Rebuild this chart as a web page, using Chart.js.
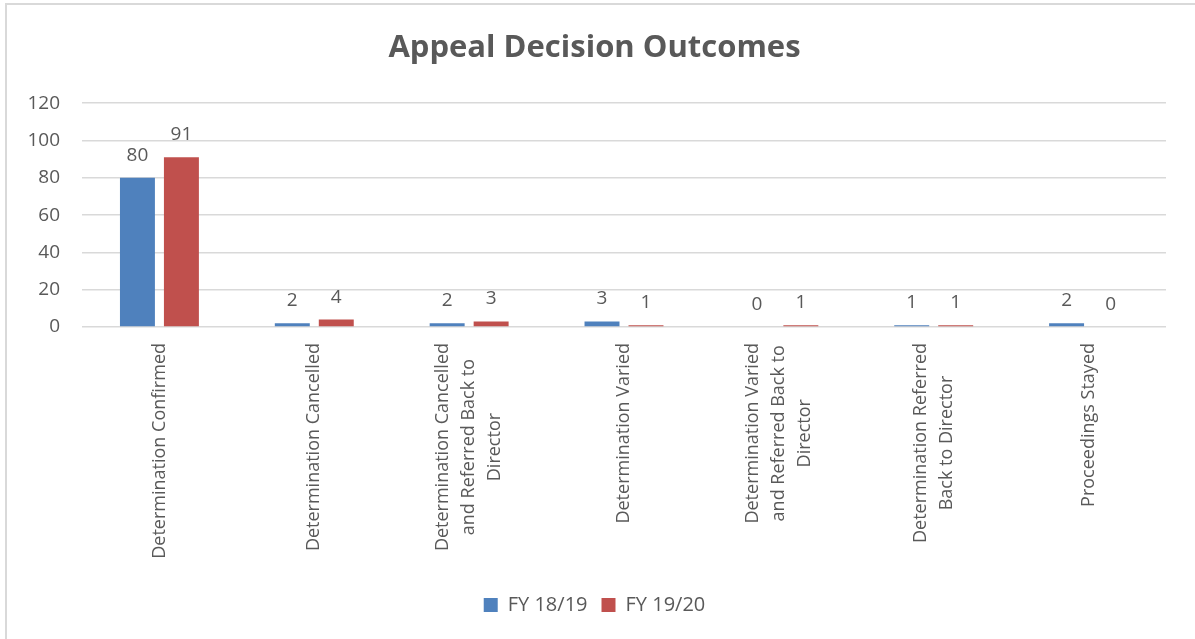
<!DOCTYPE html>
<html>
<head>
<meta charset="utf-8">
<script src="https://cdn.jsdelivr.net/npm/chart.js@4.4.1/dist/chart.umd.min.js"></script>
<style>
  html, body { margin: 0; padding: 0; background: #ffffff; }
  #wrap { position: absolute; left: 0; top: 0; width: 1195px; height: 639px; }
  #frame { position: absolute; left: 5px; top: 3px; width: 1190px; height: 636px;
           border-left: 2px solid #d9d9d9; border-top: 2px solid #d9d9d9; box-sizing: border-box; pointer-events: none; }
  canvas { position: absolute; left: 0; top: 0; }
</style>
</head>
<body>
<div id="wrap">
  <canvas id="c" width="1195" height="639"></canvas>
  <div id="frame"></div>
</div>
<script>
const chartTitle = "Appeal Decision Outcomes";
const categories = [
  ["Determination Confirmed"],
  ["Determination Cancelled"],
  ["Determination Cancelled", "and Referred Back to", "Director"],
  ["Determination Varied"],
  ["Determination Varied", "and Referred Back to", "Director"],
  ["Determination Referred", "Back to Director"],
  ["Proceedings Stayed"]
];
const seriesNames = ["FY 18/19", "FY 19/20"];
const fy1819 = [80, 2, 2, 3, 0, 1, 2];
const fy1920 = [91, 4, 3, 1, 1, 1, 0];
const yTicks = [0, 20, 40, 60, 80, 100, 120];
const seriesColors = ["#4F81BD", "#C0504D"];

const FONT = "'Open Sans', 'Noto Sans', sans-serif";
const TEXT = "#595959";

const valueLabels = {
  id: 'valueLabels',
  afterDatasetsDraw(chart) {
    const ctx = chart.ctx;
    ctx.save();
    ctx.font = "19px " + FONT;
    ctx.fillStyle = TEXT;
    ctx.textAlign = 'center';
    ctx.textBaseline = 'alphabetic';
    chart.data.datasets.forEach((ds, di) => {
      const meta = chart.getDatasetMeta(di);
      meta.data.forEach((bar, i) => {
        ctx.fillText(String(ds.data[i]), bar.x, bar.y - 17);
      });
    });
    ctx.restore();
  }
};

const categoryLabels = {
  id: 'categoryLabels',
  afterDraw(chart) {
    const ctx = chart.ctx;
    const xs = chart.scales.x;
    const top = chart.chartArea.bottom + 16;
    const lh = 26;
    ctx.save();
    ctx.font = "18px " + FONT;
    ctx.fillStyle = TEXT;
    ctx.textAlign = 'center';
    ctx.textBaseline = 'middle';
    chart.data.labels.forEach((lines, i) => {
      const x = xs.getPixelForTick(i);
      const maxW = Math.max(...lines.map(l => ctx.measureText(l).width));
      const cy = top + maxW / 2;
      ctx.save();
      ctx.translate(x, cy);
      ctx.rotate(-Math.PI / 2);
      const n = lines.length;
      lines.forEach((l, k) => {
        ctx.fillText(l, 0, (k - (n - 1) / 2) * lh);
      });
      ctx.restore();
    });
    ctx.restore();
  }
};

new Chart(document.getElementById('c'), {
  type: 'bar',
  data: {
    labels: categories,
    datasets: [
      { label: seriesNames[0], data: fy1819, backgroundColor: seriesColors[0], borderWidth: 0 },
      { label: seriesNames[1], data: fy1920, backgroundColor: seriesColors[1], borderWidth: 0 }
    ]
  },
  options: {
    responsive: false,
    animation: false,
    events: [],
    layout: { padding: { left: 23, right: 29, top: 4, bottom: 14 } },
    datasets: { bar: { categoryPercentage: 0.568, barPercentage: 0.795 } },
    plugins: {
      title: {
        display: true,
        text: chartTitle,
        color: TEXT,
        font: { family: FONT, size: 31, weight: 'bold' },
        padding: { top: 26, bottom: 36 }
      },
      legend: {
        display: true,
        position: 'bottom',
        labels: {
          color: TEXT,
          font: { family: FONT, size: 20 },
          boxWidth: 14, boxHeight: 14,
          padding: 14
        }
      },
      tooltip: { enabled: false }
    },
    scales: {
      x: {
        grid: { display: false },
        border: { display: false },
        ticks: { display: false },
        afterFit(scale) { scale.height = 254; }
      },
      y: {
        min: 0, max: 120,
        afterBuildTicks(scale) { scale.ticks = yTicks.map(v => ({ value: v })); },
        grid: { color: '#d9d9d9', lineWidth: 1.5, drawTicks: false },
        border: { display: false },
        ticks: { color: TEXT, font: { family: FONT, size: 19 }, padding: 22 },
        afterFit(scale) { scale.width = 59; }
      }
    }
  },
  plugins: [valueLabels, categoryLabels]
});
</script>
</body>
</html>
